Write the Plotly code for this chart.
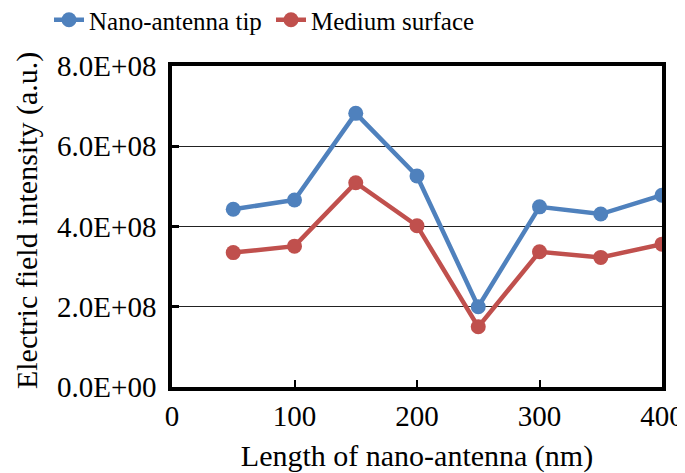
import plotly.graph_objects as go

lengths = [50, 100, 150, 200, 250, 300, 350, 400]
tip_values = [4.43e8, 4.66e8, 6.82e8, 5.26e8, 2.0e8, 4.49e8, 4.31e8, 4.78e8]
surface_values = [3.35e8, 3.51e8, 5.09e8, 4.02e8, 1.50e8, 3.37e8, 3.23e8, 3.56e8]
y_tickvals = [0, 2e8, 4e8, 6e8, 8e8]
y_ticktext = ["0.0E+00", "2.0E+08", "4.0E+08", "6.0E+08", "8.0E+08"]
x_tickvals = [0, 100, 200, 300, 400]

font_family = "Liberation Serif, Times New Roman, serif"

# the page body adds an 8px offset; the figure is sized to fill 685x473 with it
W, H = 677, 465
L_M, R_M, T_M, B_M = 164, 23, 58, 86
plot_w = W - L_M - R_M
plot_h = H - T_M - B_M

fig = go.Figure()
fig.add_trace(go.Scatter(x=lengths, y=tip_values, mode="lines+markers",
                         name="Nano-antenna tip",
                         line=dict(color="#4F81BD", width=4.5),
                         marker=dict(color="#4F81BD", size=15)))
fig.add_trace(go.Scatter(x=lengths, y=surface_values, mode="lines+markers",
                         name="Medium surface",
                         line=dict(color="#C0504D", width=4.5),
                         marker=dict(color="#C0504D", size=15)))

fig.update_layout(
    width=W, height=H,
    margin=dict(l=L_M, r=R_M, t=T_M, b=B_M, autoexpand=False),
    paper_bgcolor="white", plot_bgcolor="white",
    font=dict(family=font_family, size=29, color="black"),
    showlegend=True,
    legend=dict(orientation="h", x=41 / W, xanchor="left", xref="container",
                y=(H - 12) / H, yref="container", yanchor="middle",
                font=dict(size=25), itemwidth=30, entrywidth=177,
                bgcolor="rgba(0,0,0,0)"),
    xaxis=dict(range=[0, 400], tickvals=x_tickvals, showline=True, mirror=True,
               linecolor="black", linewidth=3.5, ticks="inside", ticklen=7,
               tickwidth=2, tickcolor="black", showgrid=False, zeroline=False,
               automargin=True, ticklabelstandoff=0,
               title=dict(text="Length of nano-antenna (nm)", standoff=22,
                          font=dict(size=30)),
               tickfont=dict(size=29)),
    yaxis=dict(range=[0, 8e8], tickvals=y_tickvals, ticktext=y_ticktext,
               showline=True, mirror=True, linecolor="black", linewidth=3.5,
               ticks="inside", ticklen=7, tickwidth=3, tickcolor="black",
               showgrid=True, gridcolor="#222222", gridwidth=1.3, zeroline=False,
               automargin=False, ticklabelstandoff=6,
               tickfont=dict(size=29)),
    annotations=[dict(text="Electric field intensity (a.u.)", textangle=-90,
                      xref="paper", yref="paper",
                      x=(0 - L_M) / plot_w, y=0.517,
                      xanchor="left", yanchor="middle", showarrow=False,
                      font=dict(size=30, family=font_family, color="black"))],
)

fig.write_html("out.html")
